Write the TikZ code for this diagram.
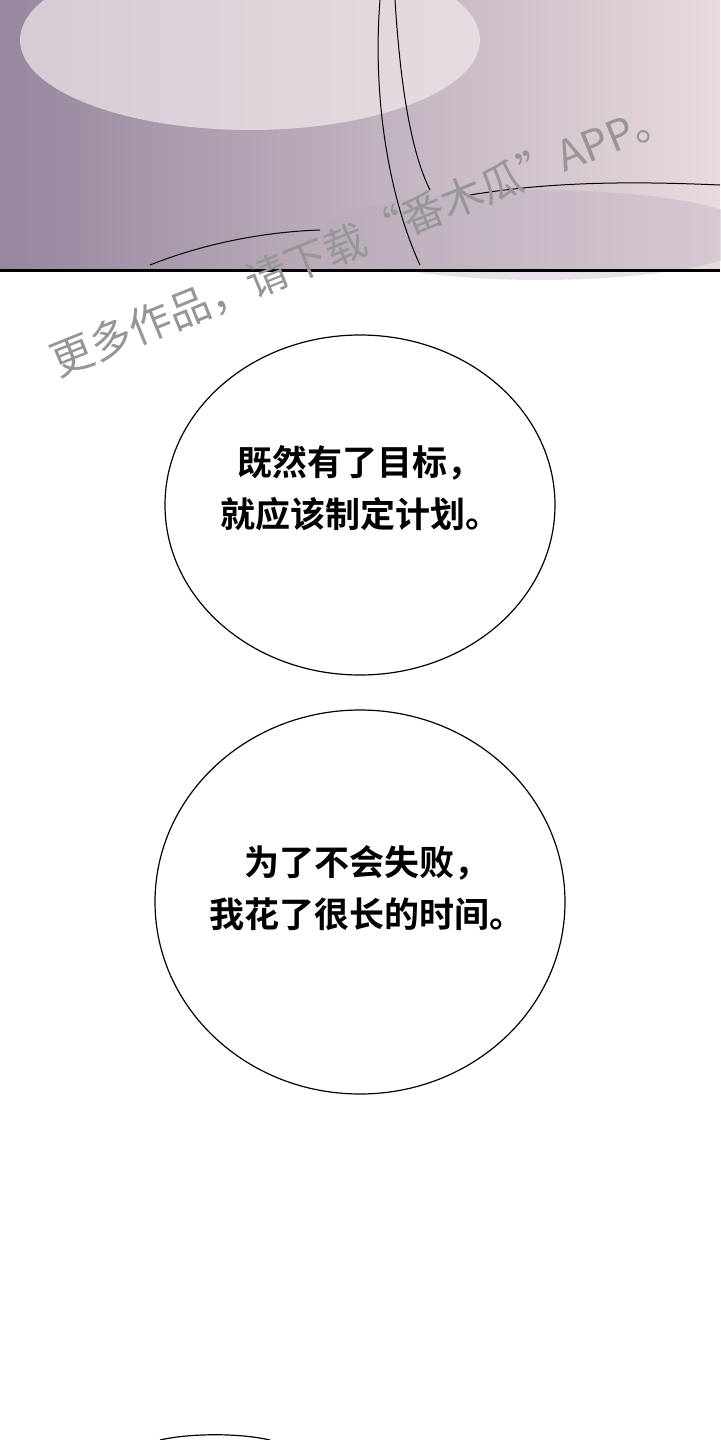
\documentclass[tikz,border=0pt]{standalone}
\usepackage{fontspec}
\usetikzlibrary{shapes.geometric}
\newfontfamily\cjk{Noto Sans CJK SC}
\newfontfamily\cjkb{Noto Sans CJK SC Bold}
\definecolor{pdark}{RGB}{150,134,158}
\definecolor{plight}{RGB}{232,218,222}
\definecolor{wm}{RGB}{150,150,150}
\tikzset{bubble/.style={draw=black,line width=0.6pt,fill=white,ellipse,inner sep=0pt},
 speech/.style={font=\cjkb\fontsize{17.5}{26}\selectfont,align=center}}
\begin{document}
\begin{tikzpicture}[x=0.5pt,y=-0.5pt]
\useasboundingbox (0,0) rectangle (720,1440);
\fill[white] (0,0) rectangle (720,1440);
\shade[left color=pdark,right color=plight] (0,0) rectangle (720,270);
\fill[plight!60!white,opacity=0.7] (250,40) ellipse (230 and 90);
\fill[pdark!70!white,opacity=0.35] (540,235) ellipse (220 and 45);
\draw[line width=0.5pt] (380,0) .. controls (372,100) and (390,200) .. (420,265);
\draw[line width=0.5pt] (395,0) .. controls (400,80) and (410,150) .. (430,190);
\draw[line width=0.5pt] (470,195) .. controls (560,180) and (650,182) .. (720,185);
\draw[line width=0.5pt] (150,265) .. controls (200,245) and (260,232) .. (320,230);
\draw[line width=1.5pt] (0,270) -- (720,270);
\node[font=\cjk\fontsize{21}{22}\selectfont,text=wm,rotate=22] (wmk) at (362,238) {更多作品，请下载“番木瓜”APP。};
\node[bubble,minimum width=195pt,minimum height=170pt] (b1) at (360,505) {};
\node[speech] (t1) at (360,488) {既然有了目标，\\就应该制定计划。};
\node[bubble,minimum width=205pt,minimum height=192pt] (b2) at (360,902) {};
\node[speech] (t2) at (367,888) {为了不会失败，\\我花了很长的时间。};
\draw[line width=0.6pt] (160,1440) .. controls (190,1433) and (240,1433) .. (270,1440);
\end{tikzpicture}
\end{document}
